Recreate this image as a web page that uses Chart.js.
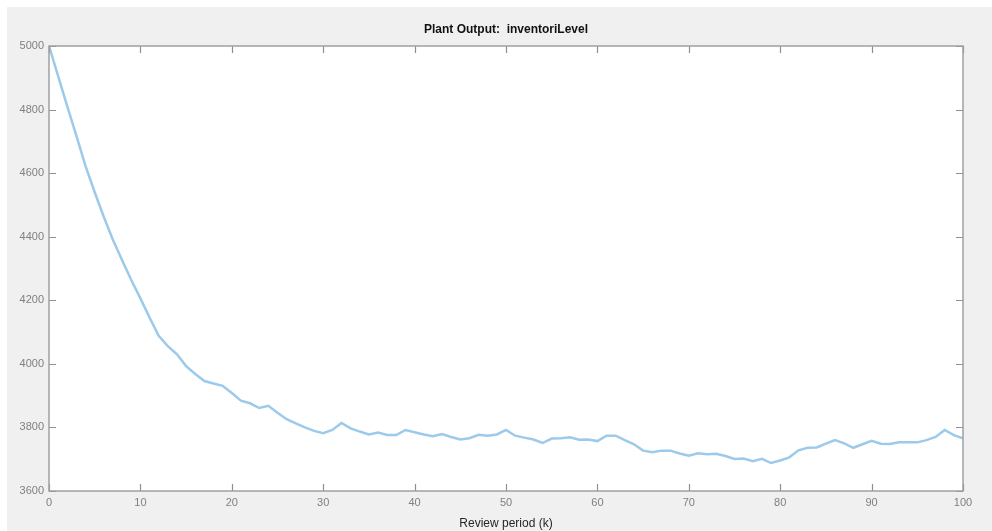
<!DOCTYPE html>
<html>
<head>
<meta charset="utf-8">
<script src="https://cdn.jsdelivr.net/npm/chart.js@4.4.1/dist/chart.umd.min.js"></script>
<style>
  html, body { margin: 0; padding: 0; background: #ffffff; }
  #wrap { width: 992px; height: 531px; position: relative; }
</style>
</head>
<body>
<div id="wrap"><canvas id="c" width="992" height="531"></canvas></div>
<script>
const titleText = 'Plant Output:  inventoriLevel';
const xAxisTitle = 'Review period (k)';
const reviewPeriods = [0,1,2,3,4,5,6,7,8,9,10,11,12,13,14,15,16,17,18,19,20,
  21,22,23,24,25,26,27,28,29,30,31,32,33,34,35,36,37,38,39,40,
  41,42,43,44,45,46,47,48,49,50,51,52,53,54,55,56,57,58,59,60,
  61,62,63,64,65,66,67,68,69,70,71,72,73,74,75,76,77,78,79,80,
  81,82,83,84,85,86,87,88,89,90,91,92,93,94,95,96,97,98,99,100];
const inventoriLevel = [5000,4905,4810,4717,4622,4540,4462,4390,4326,4264,4206,
  4146,4088,4056,4030,3993,3968,3946,3938,3931,3908,
  3884,3876,3861,3868,3846,3826,3813,3800,3789,3782,
  3792,3814,3797,3787,3778,3784,3776,3776,3792,3785,
  3778,3772,3779,3770,3762,3766,3777,3774,3778,3792,
  3774,3768,3762,3751,3765,3766,3769,3761,3762,3757,
  3774,3774,3760,3747,3727,3722,3727,3727,3718,3711,
  3719,3716,3717,3710,3701,3702,3694,3701,3688,3696,
  3706,3728,3736,3737,3749,3760,3750,3736,3747,3758,
  3749,3748,3753,3753,3753,3760,3770,3792,3776,3766];
const xTicks = [0,10,20,30,40,50,60,70,80,90,100];
const yTicks = [3600,3800,4000,4200,4400,4600,4800,5000];

const axisColor = '#8f8f8f';
const tickLabelColor = '#808080';
const fontFamily = 'Liberation Sans, Arial, sans-serif';

const framePlugin = {
  id: 'frame',
  beforeDraw(chart) {
    const ctx = chart.ctx;
    const a = chart.chartArea;
    ctx.save();
    ctx.fillStyle = '#f0f0f0';
    ctx.fillRect(7, 7, chart.width - 7, chart.height - 7);
    ctx.fillStyle = '#ffffff';
    ctx.fillRect(a.left, a.top, a.right - a.left, a.bottom - a.top);
    ctx.restore();
  },
  afterDraw(chart) {
    const ctx = chart.ctx;
    const a = chart.chartArea;
    const xs = chart.scales.x, ys = chart.scales.y;
    const len = 7;
    ctx.save();
    ctx.strokeStyle = axisColor;
    ctx.lineWidth = 1.2;
    ctx.beginPath();
    xTicks.forEach(v => {
      const px = Math.round(xs.getPixelForValue(v)) + 0.5;
      ctx.moveTo(px, a.bottom); ctx.lineTo(px, a.bottom - len);
      ctx.moveTo(px, a.top); ctx.lineTo(px, a.top + len);
    });
    yTicks.forEach(v => {
      const py = Math.round(ys.getPixelForValue(v)) + 0.5;
      ctx.moveTo(a.left, py); ctx.lineTo(a.left + len, py);
      ctx.moveTo(a.right, py); ctx.lineTo(a.right - len, py);
    });
    ctx.stroke();
    ctx.strokeStyle = '#a0a0a0';
    ctx.lineWidth = 1.5;
    ctx.strokeRect(a.left, a.top, a.right - a.left, a.bottom - a.top);
    // title, centred over the plot area
    ctx.fillStyle = '#111111';
    ctx.font = 'bold 12px ' + fontFamily;
    ctx.textAlign = 'center';
    ctx.textBaseline = 'middle';
    ctx.fillText(titleText, (a.left + a.right) / 2, 30);
    ctx.restore();
  }
};

new Chart(document.getElementById('c'), {
  type: 'line',
  data: {
    datasets: [{
      data: reviewPeriods.map((k, i) => ({ x: k, y: inventoriLevel[i] })),
      borderColor: '#9ccaea',
      borderWidth: 2.5,
      pointRadius: 0,
      tension: 0,
      fill: false
    }]
  },
  options: {
    responsive: false,
    animation: false,
    devicePixelRatio: 1,
    layout: { padding: { left: 0, right: 29, top: 46, bottom: 0 } },
    plugins: {
      legend: { display: false },
      tooltip: { enabled: false },
      title: { display: false }
    },
    scales: {
      x: {
        type: 'linear',
        min: 0, max: 100,
        afterBuildTicks(scale) { scale.ticks = xTicks.map(v => ({ value: v })); },
        afterFit(scale) { scale.height = 40; },
        grid: { display: false, drawTicks: false },
        border: { display: false },
        ticks: {
          color: tickLabelColor,
          padding: 5,
          maxRotation: 0,
          callback: v => String(v),
          font: { family: fontFamily, size: 11 }
        },
        title: {
          display: true,
          text: xAxisTitle,
          color: '#262626',
          padding: { top: 1, bottom: 0 },
          font: { family: fontFamily, size: 12 }
        }
      },
      y: {
        type: 'linear',
        min: 3600, max: 5000,
        afterBuildTicks(scale) { scale.ticks = yTicks.map(v => ({ value: v })); },
        afterFit(scale) { scale.width = 49; },
        grid: { display: false, drawTicks: false },
        border: { display: false },
        ticks: {
          color: tickLabelColor,
          padding: 5,
          callback: v => String(v),
          font: { family: fontFamily, size: 11 }
        }
      }
    }
  },
  plugins: [framePlugin]
});
</script>
</body>
</html>
